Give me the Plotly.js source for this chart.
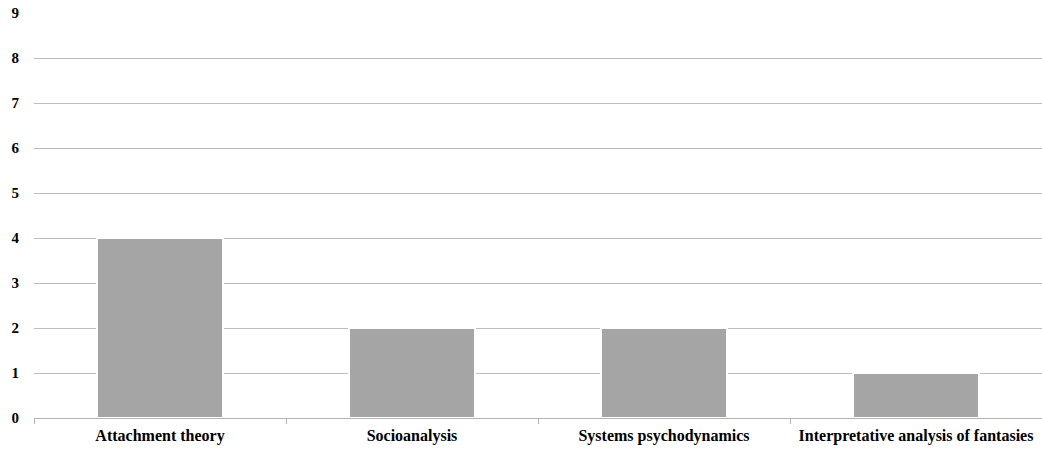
<!DOCTYPE html>
<html>
<head>
<meta charset="utf-8">
<script src="https://cdn.plot.ly/plotly-3.0.1.min.js"></script>
<style>
  html, body { margin: 0; padding: 0; background: #ffffff; }
  #chart { width: 1042px; height: 452px; }
</style>
</head>
<body>
<div id="chart"></div>
<script>
// Number of studies per theoretical approach
const categories = [
  "Attachment theory",
  "Socioanalysis",
  "Systems psychodynamics",
  "Interpretative analysis of fantasies"
];
const counts = [4, 2, 2, 1];
const yTicks = [0, 1, 2, 3, 4, 5, 6, 7, 8, 9];

const serif = "Liberation Serif, 'DejaVu Serif', serif";

const trace = {
  type: "bar",
  x: categories,
  y: counts,
  width: 0.5,
  marker: { color: "#a5a5a5", line: { color: "#ffffff", width: 2 } },
  hoverinfo: "x+y"
};

const layout = {
  width: 1042,
  height: 452,
  margin: { l: 34, r: 0, t: 13, b: 34 },
  paper_bgcolor: "#ffffff",
  plot_bgcolor: "#ffffff",
  showlegend: false,
  bargap: 0.5,
  xaxis: {
    type: "category",
    tickson: "boundaries",
    ticks: "outside",
    ticklen: 5,
    tickcolor: "#b3b3b3",
    tickwidth: 1,
    showline: true,
    linecolor: "#b3b3b3",
    linewidth: 1,
    showgrid: false,
    ticklabelstandoff: 3,
    tickfont: { family: serif, size: 16, color: "#000000", weight: 700 },
    automargin: false
  },
  yaxis: {
    range: [0, 9],
    tickvals: yTicks,
    ticktext: yTicks.map(String),
    showgrid: true,
    gridcolor: "#bdbdbd",
    gridwidth: 1,
    zeroline: false,
    showline: false,
    ticks: "",
    ticklabelstandoff: 14,
    tickfont: { family: serif, size: 15, color: "#000000", weight: 700 },
    automargin: false
  }
};

Plotly.newPlot("chart", [trace], layout, { displayModeBar: false, staticPlot: true });
</script>
</body>
</html>
